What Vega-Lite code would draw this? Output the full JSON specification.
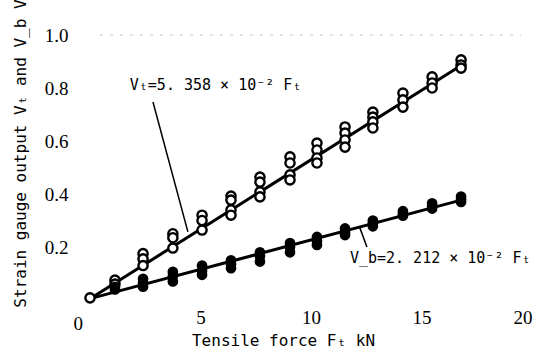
{
  "$schema": "https://vega.github.io/schema/vega-lite/v6.json",
  "width": 442,
  "height": 265,
  "autosize": {"type": "none"},
  "padding": {"left": 90, "top": 35, "right": 10, "bottom": 54},
  "background": "white",
  "config": {
    "view": {"stroke": null},
    "axis": {"domain": false, "ticks": false, "tickSize": 0, "grid": false, "labelColor": "black", "titleColor": "black"}
  },
  "datasets": {
    "pts": [
      {"F": 0, "V": 0.008, "s": "Vt"},
      {"F": 1.13, "V": 0.075, "s": "Vt"}, {"F": 1.13, "V": 0.06, "s": "Vt"},
      {"F": 2.4, "V": 0.175, "s": "Vt"}, {"F": 2.4, "V": 0.155, "s": "Vt"}, {"F": 2.4, "V": 0.13, "s": "Vt"},
      {"F": 3.75, "V": 0.25, "s": "Vt"}, {"F": 3.75, "V": 0.235, "s": "Vt"}, {"F": 3.75, "V": 0.196, "s": "Vt"},
      {"F": 5.07, "V": 0.32, "s": "Vt"}, {"F": 5.07, "V": 0.3, "s": "Vt"}, {"F": 5.07, "V": 0.264, "s": "Vt"},
      {"F": 6.38, "V": 0.392, "s": "Vt"}, {"F": 6.38, "V": 0.377, "s": "Vt"}, {"F": 6.38, "V": 0.34, "s": "Vt"}, {"F": 6.38, "V": 0.32, "s": "Vt"},
      {"F": 7.69, "V": 0.464, "s": "Vt"}, {"F": 7.69, "V": 0.445, "s": "Vt"}, {"F": 7.69, "V": 0.408, "s": "Vt"}, {"F": 7.69, "V": 0.389, "s": "Vt"},
      {"F": 9.05, "V": 0.54, "s": "Vt"}, {"F": 9.05, "V": 0.517, "s": "Vt"}, {"F": 9.05, "V": 0.472, "s": "Vt"}, {"F": 9.05, "V": 0.453, "s": "Vt"},
      {"F": 10.27, "V": 0.592, "s": "Vt"}, {"F": 10.27, "V": 0.566, "s": "Vt"}, {"F": 10.27, "V": 0.536, "s": "Vt"}, {"F": 10.27, "V": 0.517, "s": "Vt"},
      {"F": 11.54, "V": 0.653, "s": "Vt"}, {"F": 11.54, "V": 0.63, "s": "Vt"}, {"F": 11.54, "V": 0.604, "s": "Vt"}, {"F": 11.54, "V": 0.577, "s": "Vt"},
      {"F": 12.8, "V": 0.709, "s": "Vt"}, {"F": 12.8, "V": 0.69, "s": "Vt"}, {"F": 12.8, "V": 0.672, "s": "Vt"}, {"F": 12.8, "V": 0.649, "s": "Vt"},
      {"F": 14.16, "V": 0.781, "s": "Vt"}, {"F": 14.16, "V": 0.755, "s": "Vt"}, {"F": 14.16, "V": 0.728, "s": "Vt"},
      {"F": 15.48, "V": 0.842, "s": "Vt"}, {"F": 15.48, "V": 0.819, "s": "Vt"}, {"F": 15.48, "V": 0.8, "s": "Vt"},
      {"F": 16.79, "V": 0.906, "s": "Vt"}, {"F": 16.79, "V": 0.887, "s": "Vt"}, {"F": 16.79, "V": 0.875, "s": "Vt"},
      {"F": 1.13, "V": 0.05, "s": "Vb"}, {"F": 1.13, "V": 0.04, "s": "Vb"},
      {"F": 2.4, "V": 0.08, "s": "Vb"}, {"F": 2.4, "V": 0.065, "s": "Vb"}, {"F": 2.4, "V": 0.05, "s": "Vb"},
      {"F": 3.75, "V": 0.106, "s": "Vb"}, {"F": 3.75, "V": 0.09, "s": "Vb"}, {"F": 3.75, "V": 0.07, "s": "Vb"},
      {"F": 5.07, "V": 0.13, "s": "Vb"}, {"F": 5.07, "V": 0.11, "s": "Vb"}, {"F": 5.07, "V": 0.095, "s": "Vb"},
      {"F": 6.38, "V": 0.15, "s": "Vb"}, {"F": 6.38, "V": 0.135, "s": "Vb"}, {"F": 6.38, "V": 0.12, "s": "Vb"},
      {"F": 7.69, "V": 0.18, "s": "Vb"}, {"F": 7.69, "V": 0.165, "s": "Vb"}, {"F": 7.69, "V": 0.145, "s": "Vb"},
      {"F": 9.05, "V": 0.215, "s": "Vb"}, {"F": 9.05, "V": 0.2, "s": "Vb"}, {"F": 9.05, "V": 0.18, "s": "Vb"},
      {"F": 10.27, "V": 0.238, "s": "Vb"}, {"F": 10.27, "V": 0.222, "s": "Vb"}, {"F": 10.27, "V": 0.208, "s": "Vb"},
      {"F": 11.54, "V": 0.27, "s": "Vb"}, {"F": 11.54, "V": 0.255, "s": "Vb"}, {"F": 11.54, "V": 0.245, "s": "Vb"},
      {"F": 12.8, "V": 0.3, "s": "Vb"}, {"F": 12.8, "V": 0.29, "s": "Vb"}, {"F": 12.8, "V": 0.278, "s": "Vb"},
      {"F": 14.16, "V": 0.335, "s": "Vb"}, {"F": 14.16, "V": 0.325, "s": "Vb"}, {"F": 14.16, "V": 0.318, "s": "Vb"},
      {"F": 15.48, "V": 0.365, "s": "Vb"}, {"F": 15.48, "V": 0.355, "s": "Vb"}, {"F": 15.48, "V": 0.345, "s": "Vb"},
      {"F": 16.79, "V": 0.39, "s": "Vb"}, {"F": 16.79, "V": 0.38, "s": "Vb"}, {"F": 16.79, "V": 0.37, "s": "Vb"}
    ],
    "fits": [
      {"F": 0, "V": 0.005, "s": "Vt"}, {"F": 16.79, "V": 0.885, "s": "Vt"},
      {"F": 0, "V": 0.005, "s": "Vb"}, {"F": 16.79, "V": 0.377, "s": "Vb"}
    ],
    "leaders": [
      {"F": 2.85, "V": 0.747, "F2": 4.43, "V2": 0.257},
      {"F": 12.2, "V": 0.275, "F2": 12.53, "V2": 0.2}
    ],
    "labels": [
      {"F": 1.8, "V": 0.81, "t": "Vₜ=5. 358 × 10⁻² Fₜ"},
      {"F": 11.76, "V": 0.158, "t": "V_b=2. 212 × 10⁻² Fₜ"}
    ],
    "topline": [{"F": 0.45, "F2": 19.5, "V": 1.0}]
  },
  "layer": [
    {
      "data": {"name": "topline"},
      "mark": {"type": "rule", "color": "#c8c8c8", "strokeWidth": 1, "strokeDash": [3, 7]},
      "encoding": {
        "x": {"field": "F", "type": "quantitative", "scale": {"domain": [0, 20]},
          "axis": {"values": [0, 5, 10, 15, 20], "title": "Tensile force  Fₜ kN",
            "labelFont": "Liberation Sans Narrow", "labelFontSize": 19, "labelBaseline": "middle",
            "labelPadding": {"condition": {"test": "datum.value === 0", "value": 23}, "value": 17},
            "labelOffset": {"condition": {"test": "datum.value === 0", "value": -17}, "value": 0},
            "titleFont": "DejaVu Sans Mono", "titleFontSize": 16, "titleFontWeight": "normal",
            "titleX": 193, "titleY": 40, "titleBaseline": "middle", "titleAlign": "center"}},
        "x2": {"field": "F2"},
        "y": {"field": "V", "type": "quantitative", "scale": {"domain": [0, 1]},
          "axis": {"values": [0.2, 0.4, 0.6, 0.8, 1.0], "format": ".1f", "title": "Strain gauge output  Vₜ and V_b V",
            "labelFont": "Liberation Sans Narrow", "labelFontSize": 19, "labelPadding": 22, "labelBaseline": "middle",
            "titleFont": "DejaVu Sans Mono", "titleFontSize": 16, "titleFontWeight": "normal",
            "titleX": -70, "titleY": 118, "titleAngle": -90, "titleBaseline": "middle", "titleAlign": "center"}}
      }
    },
    {
      "data": {"name": "fits"},
      "mark": {"type": "line", "color": "black", "strokeWidth": 3},
      "encoding": {
        "x": {"field": "F", "type": "quantitative"},
        "y": {"field": "V", "type": "quantitative"},
        "detail": {"field": "s"}
      }
    },
    {
      "data": {"name": "leaders"},
      "mark": {"type": "rule", "color": "black", "strokeWidth": 1.5},
      "encoding": {
        "x": {"field": "F", "type": "quantitative"},
        "y": {"field": "V", "type": "quantitative"},
        "x2": {"field": "F2"},
        "y2": {"field": "V2"}
      }
    },
    {
      "data": {"name": "pts"},
      "transform": [{"filter": "datum.s === 'Vt'"}],
      "mark": {"type": "point", "shape": "circle", "size": 85, "filled": false, "fill": "white", "fillOpacity": 1, "stroke": "black", "strokeWidth": 2.4, "opacity": 1},
      "encoding": {
        "x": {"field": "F", "type": "quantitative"},
        "y": {"field": "V", "type": "quantitative"}
      }
    },
    {
      "data": {"name": "pts"},
      "transform": [{"filter": "datum.s === 'Vb'"}],
      "mark": {"type": "point", "shape": "circle", "size": 115, "filled": true, "color": "black", "opacity": 1},
      "encoding": {
        "x": {"field": "F", "type": "quantitative"},
        "y": {"field": "V", "type": "quantitative"}
      }
    },
    {
      "data": {"name": "labels"},
      "mark": {"type": "text", "align": "left", "baseline": "middle", "font": "DejaVu Sans Mono", "fontSize": 15, "color": "black"},
      "encoding": {
        "x": {"field": "F", "type": "quantitative"},
        "y": {"field": "V", "type": "quantitative"},
        "text": {"field": "t"}
      }
    }
  ]
}
